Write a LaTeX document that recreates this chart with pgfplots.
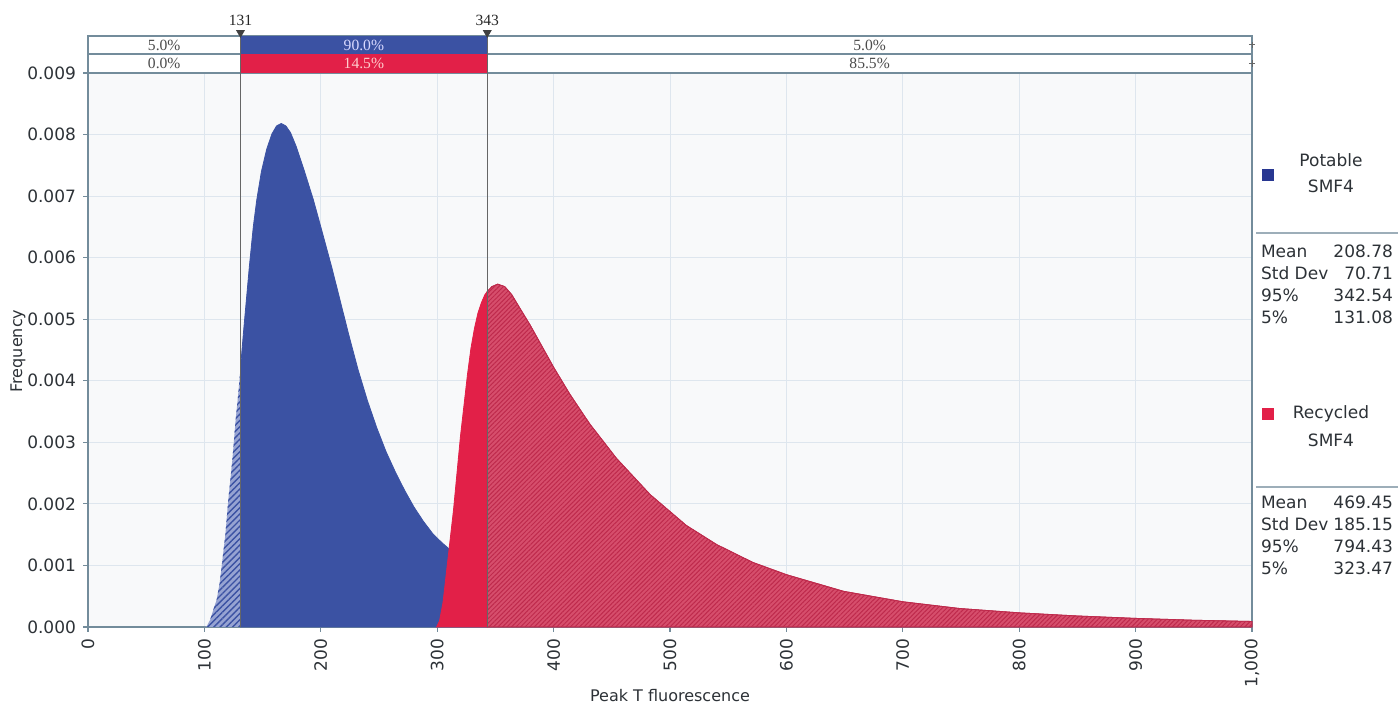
\documentclass[border=0pt]{standalone}
\usepackage{fontspec}
\setmainfont{DejaVu Sans}
\newfontfamily\barfont{Liberation Serif}
\usepackage{pgfplots}
\pgfplotsset{compat=1.18}
\usepackage{pgfplotstable}
\usetikzlibrary{patterns.meta}

\definecolor{bluefill}{RGB}{59,82,163}
\definecolor{bluehatchbg}{RGB}{150,163,210}
\definecolor{redsolid}{RGB}{226,32,72}
\definecolor{redhatchbg}{RGB}{214,78,108}
\definecolor{redhatchln}{RGB}{190,42,76}
\definecolor{plotbg}{RGB}{248,249,250}
\definecolor{gridc}{RGB}{222,230,238}
\definecolor{axisc}{RGB}{115,140,155}
\definecolor{txt}{RGB}{45,50,55}
\definecolor{legblue}{RGB}{40,55,145}

\pgfplotstableread{
x y
100 0
102 0.00001
105 0.00012
108 0.0003
110.5 0.00044
113 0.0007
114.8 0.00098
118 0.0015
120.5 0.00206
124 0.00271
127 0.0034
128.6 0.00369
131 0.0042
133.5 0.00477
136 0.0053
138.6 0.00585
142 0.0065
145 0.00694
149 0.0074
153.5 0.00776
158 0.00801
162 0.00814
166 0.00818
170 0.00814
174 0.00803
179 0.00780
186 0.00740
193.6 0.00694
200 0.0065
209.3 0.00585
216 0.00535
223.7 0.00477
232 0.00418
240 0.00368
248 0.00324
256 0.00285
264 0.00252
272 0.00222
280 0.00195
288 0.00172
296 0.00152
304 0.00137
312 0.00124
320 0.00113
343 0.00088
360 0.00072
400 0.00045
450 0.00026
500 0.00015
600 0.00005
700 0.00002
800 0.00001
}\potable

\pgfplotstableread{
x y
299.5 0
302 0.0001
305 0.0004
308 0.0009
311 0.0014
314 0.0019
317 0.0025
320 0.0031
323 0.0036
326 0.0041
329 0.00453
332 0.00485
335 0.0051
338 0.00527
341 0.0054
343 0.00545
347 0.00553
352 0.00557
358 0.00553
364 0.0054
371 0.00518
380 0.0049
390 0.00456
400 0.00422
414 0.00378
431 0.0033
454 0.00274
483 0.00215
514 0.00165
540 0.00134
571 0.00105
600 0.00085
649 0.00058
700 0.00041
749 0.0003
800 0.00023
849 0.00018
900 0.00014
950 0.00011
1000 0.00009
}\recycled

\begin{document}
\begin{tikzpicture}
\useasboundingbox[fill=white] (0,0) rectangle (699pt,352pt);
\begin{axis}[
  at={(44pt,38.5pt)}, anchor=south west,
  scale only axis, width=582pt, height=277pt,
  xmin=0, xmax=1000, ymin=0, ymax=0.009,
  clip=false,
  axis background/.style={fill=plotbg},
  axis line style={axisc, line width=0.7pt},
  grid=major, grid style={gridc, line width=0.5pt},
  xtick={0,100,200,300,400,500,600,700,800,900,1000},
  ytick={0,0.001,0.002,0.003,0.004,0.005,0.006,0.007,0.008,0.009},
  tick pos=left,
  tick align=outside, major tick length=2.5pt,
  tick style={axisc, line width=0.6pt},
  scaled y ticks=false,
  ticklabel style={font=\fontsize{8.5}{10}\selectfont, text=txt},
  /pgf/number format/assume math mode=true,
  yticklabel style={/pgf/number format/.cd, fixed, fixed zerofill, precision=3},
  xticklabel style={rotate=90, anchor=east, /pgf/number format/.cd, 1000 sep={,}},
]
% Potable
\addplot[draw=none, fill=bluehatchbg, postaction={pattern={Lines[angle=45,distance=2.2pt,line width=0.7pt]}, pattern color=bluefill}]
  table[x=x,y=y,restrict x to domain=100:131] {\potable} \closedcycle;
\addplot[draw=bluefill, line width=0.4pt, fill=bluefill]
  table[x=x,y=y,restrict x to domain=131:343] {\potable} \closedcycle;
\addplot[draw=none, fill=bluehatchbg, postaction={pattern={Lines[angle=45,distance=2.2pt,line width=0.7pt]}, pattern color=bluefill}]
  table[x=x,y=y,restrict x to domain=343:800] {\potable} \closedcycle;
% Recycled
\addplot[draw=redsolid, line width=0.4pt, fill=redsolid]
  table[x=x,y=y,restrict x to domain=299:343] {\recycled} \closedcycle;
\addplot[draw=redhatchln, line width=0.4pt, fill=redhatchbg, postaction={pattern={Lines[angle=45,distance=1.6pt,line width=0.5pt]}, pattern color=redhatchln}]
  table[x=x,y=y,restrict x to domain=343:1000] {\recycled} \closedcycle;
% percentile bars
\addplot[draw=axisc, fill=white, line width=0.6pt] coordinates {(0,0.009309)(1000,0.009309)(1000,0.009601)(0,0.009601)} -- cycle;
\addplot[draw=axisc, fill=white, line width=0.6pt] coordinates {(0,0.009)(1000,0.009)(1000,0.009309)(0,0.009309)} -- cycle;
\addplot[draw=none, fill=bluefill] coordinates {(131,0.009309)(343,0.009309)(343,0.009601)(131,0.009601)} -- cycle;
\addplot[draw=none, fill=redsolid] coordinates {(131,0.009)(343,0.009)(343,0.009309)(131,0.009309)} -- cycle;
\addplot[only marks, mark=+, mark size=1.6pt, mark options={draw=black!60, line width=0.5pt}] coordinates {(1000,0.009455)(1000,0.009154)};
% marker lines
\addplot[draw=black!60, line width=0.7pt] coordinates {(131,0)(131,0.009601)};
\addplot[draw=black!60, line width=0.7pt] coordinates {(343,0)(343,0.009601)};
\addplot[only marks, mark=triangle*, mark size=2.2pt, mark options={rotate=180, fill=black!75, draw=black!75}] coordinates {(131,0.009655)(343,0.009655)};
% bar texts
\begin{scope}[font=\barfont\fontsize{7.8}{9}\selectfont]
\node[text=black!70] at (axis cs:65.5,0.009455) {5.0\%};
\node[text=white!85!blue] at (axis cs:237,0.009455) {90.0\%};
\node[text=black!70] at (axis cs:671.5,0.009455) {5.0\%};
\node[text=black!70] at (axis cs:65.5,0.009154) {0.0\%};
\node[text=white!80!red] at (axis cs:237,0.009154) {14.5\%};
\node[text=black!70] at (axis cs:671.5,0.009154) {85.5\%};
\node[text=black!85] at (axis cs:131,0.009861) {131};
\node[text=black!85] at (axis cs:343,0.009861) {343};
\end{scope}
\end{axis}
% axis titles
\node[text=txt, font=\fontsize{8}{9}\selectfont] at (335pt,4pt) {Peak T fluorescence};
\node[text=txt, font=\fontsize{8}{9}\selectfont, rotate=90] at (9pt,176.5pt) {Frequency};
% legend
\begin{scope}[font=\fontsize{8.5}{10}\selectfont, text=txt]
\fill[legblue] (631.2pt,261.7pt) rectangle (636.8pt,267.3pt);
\node at (665.5pt,272pt) {Potable};
\node at (665.5pt,259pt) {SMF4};
\draw[axisc!70, line width=0.6pt] (628pt,235.5pt) -- (699pt,235.5pt);
\node[anchor=west] at (627pt,226.5pt) {Mean};
\node[anchor=west] at (627pt,215.5pt) {Std Dev};
\node[anchor=west] at (627pt,204.5pt) {95\%};
\node[anchor=west] at (627pt,193.5pt) {5\%};
\node[anchor=east] at (700pt,226.5pt) {208.78};
\node[anchor=east] at (700pt,215.5pt) {70.71};
\node[anchor=east] at (700pt,204.5pt) {342.54};
\node[anchor=east] at (700pt,193.5pt) {131.08};
\fill[redsolid] (631.2pt,142.2pt) rectangle (636.8pt,147.8pt);
\node at (665.5pt,145pt) {Recycled};
\node at (665.5pt,132pt) {SMF4};
\draw[axisc!70, line width=0.6pt] (628pt,108.5pt) -- (699pt,108.5pt);
\node[anchor=west] at (627pt,101pt) {Mean};
\node[anchor=west] at (627pt,90pt) {Std Dev};
\node[anchor=west] at (627pt,79pt) {95\%};
\node[anchor=west] at (627pt,68pt) {5\%};
\node[anchor=east] at (700pt,101pt) {469.45};
\node[anchor=east] at (700pt,90pt) {185.15};
\node[anchor=east] at (700pt,79pt) {794.43};
\node[anchor=east] at (700pt,68pt) {323.47};
\end{scope}
\end{tikzpicture}
\end{document}
